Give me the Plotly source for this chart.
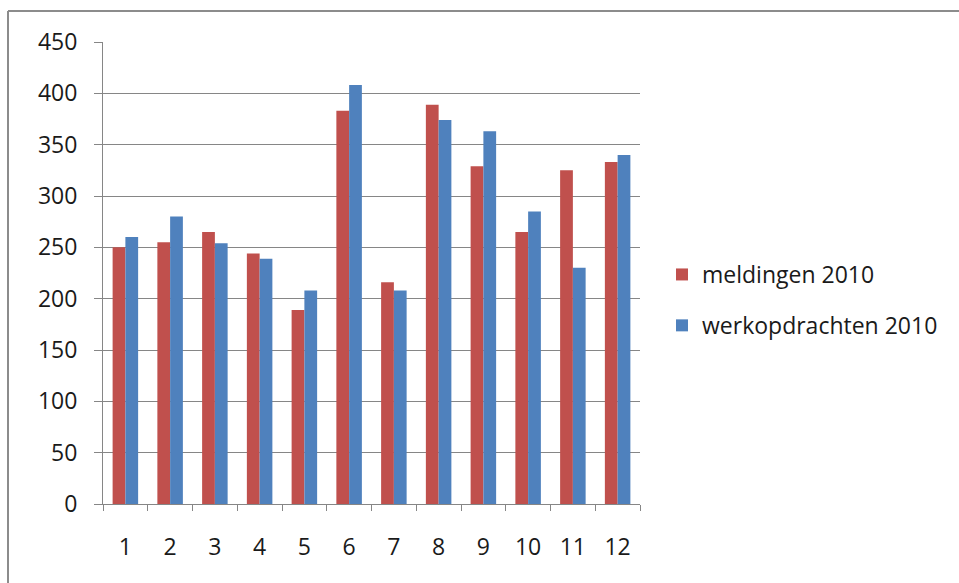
import plotly.graph_objects as go

# Monthly counts for 2010
months = ["1", "2", "3", "4", "5", "6", "7", "8", "9", "10", "11", "12"]
meldingen_2010 = [250, 255, 265, 244, 189, 383, 216, 389, 329, 265, 325, 333]
werkopdrachten_2010 = [260, 280, 254, 239, 208, 408, 208, 374, 363, 285, 230, 340]
y_ticks = [0, 50, 100, 150, 200, 250, 300, 350, 400, 450]

FONT = "Open Sans, Noto Sans, sans-serif"
GRID = "#868686"

fig = go.Figure()
fig.add_trace(go.Bar(
    x=months, y=meldingen_2010, name="meldingen 2010",
    marker=dict(color="#C0504D", line=dict(width=0)),
    legendgroup="a",
))
fig.add_trace(go.Bar(
    x=months, y=werkopdrachten_2010, name="werkopdrachten 2010",
    marker=dict(color="#4F81BD", line=dict(width=0)),
    legendgroup="b",
))

# Plot area spans px 103..640 horizontally and 42..504 vertically
L, R, T, B = 103, 319, 42, 79
W, H = 959, 583
pw, ph = W - L - R, H - T - B


def px_x(p):
    return (p - L) / pw


def px_y(p):
    return (H - B - p) / ph


fig.update_layout(
    width=W, height=H,
    margin=dict(l=L, r=R, t=T, b=B, pad=0),
    paper_bgcolor="white", plot_bgcolor="white",
    barmode="group", bargap=0.43, bargroupgap=0,
    font=dict(family=FONT, size=23, color="#1a1a1a"),
    showlegend=True,
    legend=dict(
        x=px_x(662), xanchor="left",
        y=px_y(300), yanchor="middle",
        font=dict(family=FONT, size=23, color="#1a1a1a"),
        tracegroupgap=18,
        bgcolor="rgba(0,0,0,0)",
    ),
    xaxis=dict(
        type="category",
        showgrid=False,
        showline=True, linecolor=GRID, linewidth=1,
        ticks="outside", ticklen=6, tickcolor=GRID, tickwidth=1,
        tickson="boundaries",
        ticklabelstandoff=22,
        tickfont=dict(family=FONT, size=23),
    ),
    yaxis=dict(
        range=[0, 450],
        tickvals=y_ticks,
        ticktext=[str(v) for v in y_ticks],
        showgrid=True, gridcolor=GRID, gridwidth=1,
        showline=True, linecolor=GRID, linewidth=1,
        ticks="outside", ticklen=8, tickcolor=GRID, tickwidth=1,
        ticklabelstandoff=12,
        zeroline=False,
        tickfont=dict(family=FONT, size=23),
    ),
    shapes=[
        # outer chart frame: top and left edges
        dict(type="line", xref="paper", yref="paper",
             x0=px_x(8), x1=px_x(W + 5), y0=px_y(11), y1=px_y(11),
             line=dict(color="#8c8c8c", width=2)),
        dict(type="line", xref="paper", yref="paper",
             x0=px_x(8), x1=px_x(8), y0=px_y(11), y1=px_y(H + 5),
             line=dict(color="#8c8c8c", width=2)),
    ],
)

fig.write_html("out.html")
